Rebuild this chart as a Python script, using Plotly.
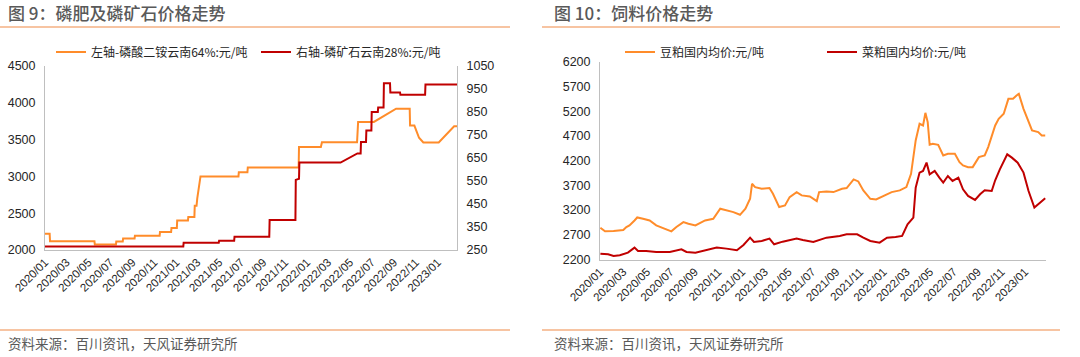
import plotly.graph_objects as go

# ---------------- Data: Figure 9 (phosphate) ----------------
dap_dates = ["2020-01-01", "2020-01-14", "2020-01-15", "2020-05-18", "2020-05-19", "2020-07-17",
             "2020-07-18", "2020-08-05", "2020-08-06", "2020-09-07", "2020-09-08", "2020-11-16",
             "2020-11-17", "2020-12-18", "2020-12-19", "2021-01-03", "2021-01-04", "2021-02-03",
             "2021-02-04", "2021-02-21", "2021-02-22", "2021-02-27", "2021-03-01", "2021-03-10",
             "2021-06-24", "2021-06-25", "2021-07-19", "2021-07-20", "2021-12-09", "2021-12-10",
             "2022-02-09", "2022-02-10", "2022-02-12", "2022-05-21", "2022-05-22", "2022-05-24",
             "2022-07-07", "2022-09-07", "2022-10-15", "2022-10-16", "2022-10-28", "2022-11-10",
             "2022-11-22", "2023-01-04", "2023-02-16", "2023-02-24"]
dap_vals = [2220, 2220, 2120, 2120, 2075, 2075,
            2115, 2115, 2155, 2155, 2195, 2195,
            2245, 2245, 2300, 2300, 2400, 2400,
            2450, 2450, 2600, 2600, 2700, 3000,
            3000, 3055, 3055, 3120, 3120, 3400,
            3400, 3440, 3465, 3465, 3650, 3740,
            3740, 3920, 3920, 3690, 3690, 3525,
            3460, 3460, 3680, 3680]

rock_dates = ["2020-01-01", "2021-01-21", "2021-01-22", "2021-04-30", "2021-05-01", "2021-06-12",
              "2021-06-13", "2021-09-18", "2021-09-19", "2021-11-30", "2021-12-01", "2021-12-10",
              "2021-12-11", "2022-04-05", "2022-05-22", "2022-05-31", "2022-06-01", "2022-06-15",
              "2022-06-16", "2022-06-30", "2022-07-01", "2022-07-18", "2022-07-19", "2022-08-03",
              "2022-08-04", "2022-08-21", "2022-08-22", "2022-09-18", "2022-09-19", "2022-11-27",
              "2022-11-28", "2023-02-24"]
rock_vals = [265, 265, 282, 282, 290, 290,
             308, 308, 380, 380, 555, 560,
             630, 630, 670, 670, 720, 720,
             770, 770, 850, 850, 870, 870,
             975, 975, 935, 935, 925, 925,
             970, 970]

# ---------------- Data: Figure 10 (feed) ----------------
soy_dates = ["2020-01-02", "2020-01-14", "2020-02-05", "2020-03-01", "2020-03-09", "2020-03-17",
             "2020-03-30", "2020-04-06", "2020-04-21", "2020-05-08", "2020-05-25", "2020-06-16",
             "2020-07-03", "2020-07-16", "2020-08-03", "2020-08-16", "2020-09-03", "2020-09-28",
             "2020-10-19", "2020-11-06", "2020-11-22", "2020-12-10", "2020-12-27", "2021-01-10",
             "2021-01-22", "2021-01-27", "2021-02-04", "2021-02-21", "2021-03-13", "2021-03-22",
             "2021-04-07", "2021-04-22", "2021-05-04", "2021-05-22", "2021-06-04", "2021-06-25",
             "2021-07-13", "2021-07-19", "2021-08-07", "2021-08-25", "2021-09-16", "2021-09-28",
             "2021-10-16", "2021-10-28", "2021-11-10", "2021-11-28", "2021-12-13", "2022-01-01",
             "2022-01-22", "2022-02-12", "2022-03-01", "2022-03-13", "2022-03-25", "2022-04-04",
             "2022-04-13", "2022-04-19", "2022-04-25", "2022-04-30", "2022-05-08", "2022-05-22",
             "2022-06-04", "2022-06-16", "2022-07-04", "2022-07-16", "2022-07-25", "2022-08-07",
             "2022-08-19", "2022-09-04", "2022-09-19", "2022-09-28", "2022-10-16", "2022-10-25",
             "2022-11-07", "2022-11-19", "2022-12-01", "2022-12-10", "2022-12-16", "2022-12-28",
             "2023-01-10", "2023-01-19", "2023-02-04", "2023-02-13", "2023-02-22"]
soy_vals = [2840, 2770, 2776, 2796, 2857, 2890,
            2990, 3050, 3024, 2990, 2890, 2822,
            2770, 2857, 2957, 2923, 2890, 2990,
            3024, 3226, 3192, 3158, 3104, 3226,
            3428, 3731, 3664, 3630, 3644, 3529,
            3260, 3293, 3462, 3563, 3496, 3475,
            3381, 3563, 3577, 3563, 3630, 3644,
            3819, 3779, 3597, 3428, 3414, 3482,
            3563, 3597, 3664, 3933, 4607, 4944,
            4910, 5166, 4978, 4520, 4540, 4520,
            4304, 4338, 4338, 4169, 4102, 4068,
            4068, 4270, 4304, 4473, 4910, 5045,
            5146, 5449, 5449, 5517, 5550, 5247,
            4978, 4809, 4776, 4708, 4708]

rape_dates = ["2020-01-02", "2020-01-22", "2020-02-05", "2020-02-21", "2020-03-13", "2020-03-30",
              "2020-04-08", "2020-04-29", "2020-05-25", "2020-06-29", "2020-07-29", "2020-08-11",
              "2020-09-03", "2020-09-24", "2020-10-28", "2020-11-22", "2020-12-19", "2021-01-05",
              "2021-01-22", "2021-02-01", "2021-02-21", "2021-03-13", "2021-03-25", "2021-04-16",
              "2021-05-22", "2021-06-07", "2021-07-04", "2021-08-07", "2021-09-10", "2021-09-28",
              "2021-10-25", "2021-11-10", "2021-11-28", "2021-12-22", "2022-01-10", "2022-02-01",
              "2022-02-18", "2022-03-04", "2022-03-19", "2022-03-25", "2022-04-04", "2022-04-13",
              "2022-04-22", "2022-04-30", "2022-05-13", "2022-05-25", "2022-06-04", "2022-06-16",
              "2022-06-28", "2022-07-13", "2022-07-25", "2022-08-07", "2022-08-25", "2022-09-07",
              "2022-09-19", "2022-10-07", "2022-10-16", "2022-10-28", "2022-11-16", "2022-11-28",
              "2022-12-13", "2022-12-28", "2023-01-10", "2023-01-25", "2023-02-04", "2023-02-13",
              "2023-02-22"]
rape_vals = [2318, 2305, 2271, 2285, 2339, 2440,
             2372, 2372, 2352, 2352, 2406, 2352,
             2339, 2372, 2440, 2420, 2386, 2494,
             2642, 2554, 2575, 2622, 2507, 2561,
             2622, 2595, 2554, 2642, 2676, 2710,
             2710, 2642, 2575, 2541, 2642, 2656,
             2676, 2912, 3046, 3653, 3957, 3990,
             4159, 3923, 3990, 3855, 3754, 3889,
             3788, 3855, 3619, 3485, 3404, 3518,
             3599, 3586, 3802, 4024, 4327, 4260,
             4159, 3957, 3586, 3249, 3316, 3384,
             3438]

# ---------------- Axis ticks ----------------
x_tickvals = ["2020-01-01", "2020-03-01", "2020-05-01", "2020-07-01", "2020-09-01", "2020-11-01",
              "2021-01-01", "2021-03-01", "2021-05-01", "2021-07-01", "2021-09-01", "2021-11-01",
              "2022-01-01", "2022-03-01", "2022-05-01", "2022-07-01", "2022-09-01", "2022-11-01",
              "2023-01-01"]
x_ticktext = ["2020/01", "2020/03", "2020/05", "2020/07", "2020/09", "2020/11",
              "2021/01", "2021/03", "2021/05", "2021/07", "2021/09", "2021/11",
              "2022/01", "2022/03", "2022/05", "2022/07", "2022/09", "2022/11",
              "2023/01"]
left_y_ticks = [2000, 2500, 3000, 3500, 4000, 4500]
right_y_ticks = [250, 350, 450, 550, 650, 750, 850, 950, 1050]
feed_y_ticks = [2200, 2700, 3200, 3700, 4200, 4700, 5200, 5700, 6200]

ORANGE = "#FF8C2A"
RED = "#C00000"
AXIS = "#BFBFBF"
TXT = "#262626"
GRAY = "#595959"
CJK = "Noto Sans CJK SC"
LAT = "Liberation Sans, Arial, sans-serif"

W, H = 1080, 357

fig = go.Figure()
fig.add_trace(go.Scatter(x=dap_dates, y=dap_vals, mode="lines", name="左轴-磷酸二铵云南64%:元/吨",
                         line=dict(color=ORANGE, width=2), xaxis="x", yaxis="y", legend="legend"))
fig.add_trace(go.Scatter(x=rock_dates, y=rock_vals, mode="lines", name="右轴-磷矿石云南28%:元/吨",
                         line=dict(color=RED, width=2), xaxis="x", yaxis="y2", legend="legend"))
fig.add_trace(go.Scatter(x=soy_dates, y=soy_vals, mode="lines", name="豆粕国内均价:元/吨",
                         line=dict(color=ORANGE, width=2), xaxis="x2", yaxis="y3", legend="legend2"))
fig.add_trace(go.Scatter(x=rape_dates, y=rape_vals, mode="lines", name="菜粕国内均价:元/吨",
                         line=dict(color=RED, width=2), xaxis="x2", yaxis="y3", legend="legend2"))

def py(px):
    return (H - px) / H

xcommon = dict(type="date", range=["2020-01-01", "2023-02-24"], tickvals=x_tickvals, ticktext=x_ticktext,
               tickangle=-45, showline=True, linecolor=AXIS, linewidth=1, showgrid=False, zeroline=False,
               ticks="", automargin=False, tickfont=dict(family=LAT, size=11.5, color=TXT))
ycommon = dict(showline=True, linecolor=AXIS, linewidth=1, showgrid=False, zeroline=False, ticks="",
               automargin=False, tickfont=dict(family=LAT, size=12.5, color=TXT), ticklabelstandoff=6)

fig.update_layout(
    width=W, height=H, margin=dict(l=0, r=0, t=0, b=0, autoexpand=False),
    paper_bgcolor="white", plot_bgcolor="white",
    xaxis=dict(domain=[45 / W, 457 / W], anchor="y", **xcommon),
    yaxis=dict(domain=[py(250), py(66)], range=[2000, 4500], tickvals=left_y_ticks, anchor="x", **ycommon),
    yaxis2=dict(overlaying="y", side="right", range=[250, 1050], tickvals=right_y_ticks, anchor="x", **ycommon),
    xaxis2=dict(domain=[600 / W, 1046 / W], anchor="y3", **xcommon),
    yaxis3=dict(domain=[py(259.5), py(61.7)], range=[2200, 6200], tickvals=feed_y_ticks, anchor="x2", **ycommon),
    legend=dict(orientation="h", x=51 / W, y=py(52), xanchor="left", yanchor="middle",
                entrywidth=160, entrywidthmode="pixels", font=dict(family=CJK, size=12, color=TXT),
                bgcolor="rgba(0,0,0,0)"),
    legend2=dict(orientation="h", x=620 / W, y=py(52), xanchor="left", yanchor="middle",
                 entrywidth=157, entrywidthmode="pixels", font=dict(family=CJK, size=12, color=TXT),
                 bgcolor="rgba(0,0,0,0)"),
    showlegend=True,
)

annotations = [
    dict(text="图 9：磷肥及磷矿石价格走势", x=6 / W, y=py(13), xref="paper", yref="paper",
         xanchor="left", yanchor="middle", showarrow=False,
         font=dict(family=CJK, size=17, color=GRAY, weight=500)),
    dict(text="图 10：饲料价格走势", x=552 / W, y=py(13), xref="paper", yref="paper",
         xanchor="left", yanchor="middle", showarrow=False,
         font=dict(family=CJK, size=17, color=GRAY, weight=500)),
    dict(text="资料来源：百川资讯，天风证券研究所", x=6 / W, y=py(343), xref="paper", yref="paper",
         xanchor="left", yanchor="middle", showarrow=False, font=dict(family=CJK, size=13.5, color=GRAY)),
    dict(text="资料来源：百川资讯，天风证券研究所", x=552 / W, y=py(343), xref="paper", yref="paper",
         xanchor="left", yanchor="middle", showarrow=False, font=dict(family=CJK, size=13.5, color=GRAY)),
]
fig.update_layout(annotations=annotations)

LINE_C = "#F4B183"
shapes = [
    dict(type="line", xref="paper", yref="paper", x0=0, x1=510 / W, y0=py(27), y1=py(27),
         line=dict(color=LINE_C, width=1.5)),
    dict(type="line", xref="paper", yref="paper", x0=0, x1=510 / W, y0=py(330), y1=py(330),
         line=dict(color=LINE_C, width=1.5)),
    dict(type="line", xref="paper", yref="paper", x0=542 / W, x1=1060 / W, y0=py(27), y1=py(27),
         line=dict(color=LINE_C, width=1.5)),
    dict(type="line", xref="paper", yref="paper", x0=542 / W, x1=1060 / W, y0=py(330), y1=py(330),
         line=dict(color=LINE_C, width=1.5)),
]
fig.update_layout(shapes=shapes)

fig.write_html("out.html", config={"displayModeBar": False},
               post_script="document.body.style.margin='0';document.body.style.overflow='hidden';")
